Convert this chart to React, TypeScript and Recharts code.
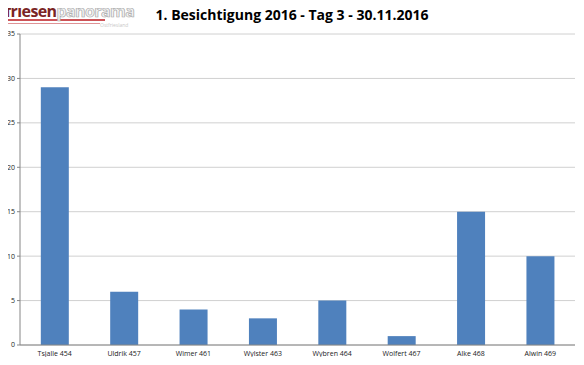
import { BarChart, Bar, XAxis, YAxis, CartesianGrid } from "recharts";

const names = [
  "Tsjalle 454",
  "Uldrik 457",
  "Wimer 461",
  "Wylster 463",
  "Wybren 464",
  "Wolfert 467",
  "Alke 468",
  "Alwin 469",
];
const counts = [29, 6, 4, 3, 5, 1, 15, 10];
const yTicks = [0, 5, 10, 15, 20, 25, 30, 35];

const data = names.map((name, i) => ({ name, value: counts[i] }));

export default function App() {
  return (
    <div style={{ margin: -8, position: "relative", width: 584, height: 365, background: "#fff" }}>
      <div style={{ position: "absolute", left: 0, top: 19, width: 105, height: 2, background: "#c0282d", opacity: 0.8 }} />
      <div style={{ position: "absolute", left: 8, top: 23, width: 92, height: 1, background: "#c0282d", opacity: 0.5 }} />
      <div
        style={{
          position: "absolute",
          left: 5,
          top: 1,
          fontFamily: "Open Sans, sans-serif",
          fontWeight: 700,
          fontSize: 16,
          lineHeight: "20px",
          letterSpacing: -0.6,
          whiteSpace: "nowrap",
        }}
      >
        <span style={{ color: "#7a2424" }}>friesen</span>
        <span style={{ color: "#f4f4f4", WebkitTextStroke: "0.7px #a8a8a8" }}>panorama</span>
      </div>
      <div
        style={{
          position: "absolute",
          left: 100,
          top: 22,
          fontFamily: "Open Sans, sans-serif",
          fontSize: 5,
          lineHeight: "6px",
          color: "#c8c8c8",
        }}
      >
        Ostfriesland
      </div>
      <div
        style={{
          position: "absolute",
          left: 0,
          width: 584,
          top: 5,
          textAlign: "center",
          fontFamily: "Open Sans, sans-serif",
          fontWeight: 700,
          fontSize: 14,
          color: "#000",
        }}
      >
        1. Besichtigung 2016 - Tag 3 - 30.11.2016
      </div>
      <div style={{ position: "absolute", left: 0, top: 0 }}>
        <BarChart
          width={584}
          height={365}
          data={data}
          margin={{ top: 34, right: 9, bottom: 0, left: 0 }}
          barCategoryGap="30%"
        >
          <CartesianGrid vertical={false} stroke="#d0d0d0" />
          <XAxis
            dataKey="name"
            height={20}
            stroke="#868686"
            tickLine={false}
            tickMargin={0}
            tick={{ fontSize: 7, fill: "#222", fontFamily: "Open Sans, sans-serif" }}
            interval={0}
          />
          <YAxis
            width={20}
            domain={[0, 35]}
            ticks={yTicks}
            stroke="#868686"
            tickSize={3}
            tick={{ fontSize: 7, fill: "#222", fontFamily: "Open Sans, sans-serif" }}
          />
          <Bar dataKey="value" fill="#4f81bd" isAnimationActive={false} />
        </BarChart>
      </div>
    </div>
  );
}
